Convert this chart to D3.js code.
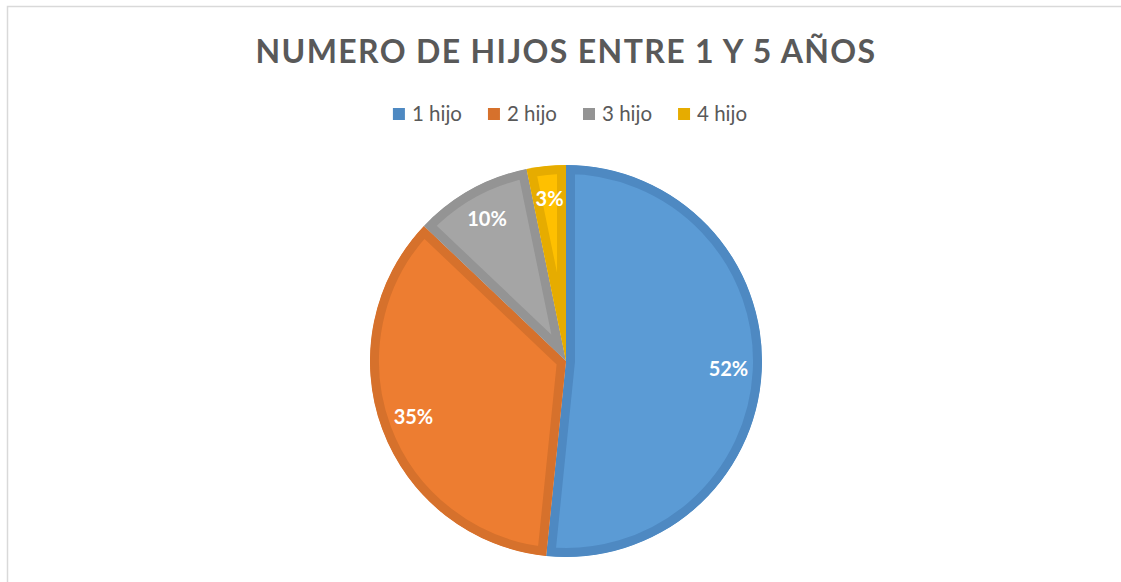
<!DOCTYPE html>
<html>
	<head>
		<meta charset="utf-8">
		<title>Numero de hijos entre 1 y 5 años</title>
		<script src="https://d3js.org/d3.v7.min.js"></script>
		<style>
			body { margin: 0; background: #fff; }
		</style>
	</head>
	<body>
		<script>

			// data
			var categories = ["1 hijo", "2 hijo", "3 hijo", "4 hijo"];
			var values = [16, 11, 3, 1];
			var labels = ["52%", "35%", "10%", "3%"];

			var fills = ["#5B9BD5", "#ED7D31", "#A5A5A5", "#FFC000"];
			var borders = ["#4E89C2", "#D6712C", "#949494", "#E6AC00"];

			//Width and height
			var w = 1121;
			var h = 582;
			var cx = 566, cy = 361;
			var R = 196;
			var band = 9;

			var svg = d3.select("body")
						.append("svg")
						.attr("width", w)
						.attr("height", h);

			// chart frame (only top and left visible)
			svg.append("rect")
				.attr("x", 7.5)
				.attr("y", 6.5)
				.attr("width", w + 20)
				.attr("height", h + 20)
				.attr("fill", "none")
				.attr("stroke", "#d9d9d9")
				.attr("stroke-width", 1.5);

			// title
			var title = svg.append("text")
				.attr("x", cx)
				.attr("y", 63)
				.attr("text-anchor", "middle")
				.attr("font-family", "Lato, sans-serif")
				.attr("font-weight", "bold")
				.attr("font-size", "32px")
				.attr("fill", "#595959")
				.text("NUMERO DE HIJOS ENTRE 1 Y 5 AÑOS");
			var tw = title.node().getComputedTextLength();
			var nChars = title.text().length;
			title.attr("letter-spacing", ((621 - tw) / nChars) + "px");

			// legend
			var legend = svg.append("g");
			var lx = 0;
			categories.forEach(function(c, i) {
				var g = legend.append("g");
				g.append("rect")
					.attr("x", lx)
					.attr("y", 108)
					.attr("width", 12)
					.attr("height", 12)
					.attr("fill", borders[i]);
				var t = g.append("text")
					.attr("x", lx + 19)
					.attr("y", 121)
					.attr("font-family", "Lato, sans-serif")
					.attr("font-size", "20.5px")
					.attr("fill", "#595959")
					.text(c);
				lx += 19 + t.node().getComputedTextLength() + (i < categories.length - 1 ? 26 : 0);
			});
			legend.attr("transform", "translate(" + (570 - lx / 2) + ",0)");

			// pie
			var pie = d3.pie().sort(null).value(function(d) { return d; });
			var arcs = pie(values);
			var arc = d3.arc().innerRadius(0).outerRadius(R);
			var labelArc = d3.arc().innerRadius(R * 0.83).outerRadius(R * 0.83);

			var g = svg.append("g").attr("transform", "translate(" + cx + "," + cy + ")");
			var defs = svg.append("defs");

			arcs.forEach(function(a, i) {
				defs.append("clipPath")
					.attr("id", "clip" + i)
					.append("path")
					.attr("d", arc(a));
			});

			g.selectAll("path.slice")
				.data(arcs)
				.enter()
				.append("path")
				.attr("class", "slice")
				.attr("d", arc)
				.attr("fill", function(d, i) { return fills[i]; })
				.attr("stroke", function(d, i) { return borders[i]; })
				.attr("stroke-width", band * 2)
				.attr("stroke-linejoin", "miter")
				.attr("clip-path", function(d, i) { return "url(#clip" + i + ")"; });

			g.selectAll("text.lbl")
				.data(arcs)
				.enter()
				.append("text")
				.attr("class", "lbl")
				.attr("transform", function(d) { return "translate(" + labelArc.centroid(d) + ")"; })
				.attr("text-anchor", "middle")
				.attr("dy", "0.35em")
				.attr("font-family", "Lato, sans-serif")
				.attr("font-weight", "bold")
				.attr("font-size", "20px")
				.attr("fill", "#fff")
				.text(function(d, i) { return labels[i]; });

		</script>
	</body>
</html>
